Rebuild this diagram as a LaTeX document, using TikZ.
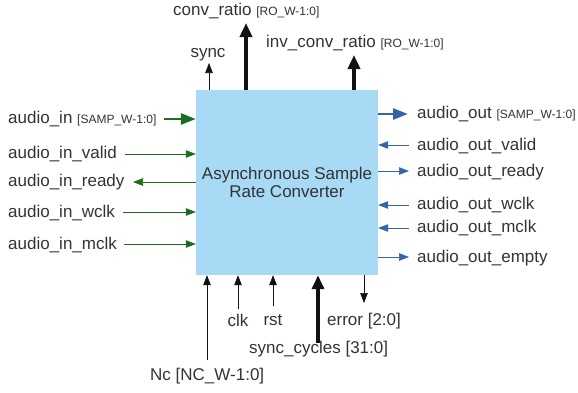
\documentclass[tikz,border=0pt]{standalone}
\usepackage{fontspec}
\setmainfont{Liberation Sans}
\usetikzlibrary{arrows.meta}
\definecolor{txt}{HTML}{333333}
\definecolor{boxfill}{HTML}{A8D9F5}
\definecolor{ingreen}{HTML}{1B6E1B}
\definecolor{outblue}{HTML}{3366A8}
\definecolor{ctlgray}{HTML}{111111}
\newcommand\widthtag[1]{{\fontsize{12}{14}\selectfont[#1]}}
\tikzset{
  lbl/.style={text=txt, inner sep=0pt, font=\fontsize{17}{20}\selectfont},
  thin sig/.style={line width=0.7pt, -{Triangle[length=10pt,width=7.5pt]}},
  thick sig/.style={line width=2.6pt, -{Triangle[length=15pt,width=11pt]}},
  bus sig/.style={line width=3.5pt, -{Triangle[length=14pt,width=12pt]}},
  ins/.style={draw=ingreen, fill=ingreen},
  outs/.style={draw=outblue, fill=outblue},
  ctl/.style={draw=ctlgray, fill=ctlgray},
}
\begin{document}
\begin{tikzpicture}[x=1pt, y=-1pt]
\useasboundingbox (0,0) rectangle (578,392);

% the converter block
\node[fill=boxfill, minimum width=182pt, minimum height=185pt, inner sep=0pt,
      align=center, text=txt, font=\fontsize{17}{17}\selectfont]
  (asrc) at (287,182.5) {Asynchronous Sample\\[0.5pt]Rate Converter};

% input side (left)
\node[lbl, anchor=west] (ain)  at (8,119) {audio\_in \widthtag{SAMP\_W-1:0}};
\node[lbl, anchor=west] (ainv) at (8,154) {audio\_in\_valid};
\node[lbl, anchor=west] (ainr) at (8,182) {audio\_in\_ready};
\node[lbl, anchor=west] (ainw) at (8,213) {audio\_in\_wclk};
\node[lbl, anchor=west] (ainm) at (8,245) {audio\_in\_mclk};
\coordinate (ainS)  at (164,119);
\coordinate (ainvS) at (125,154);
\coordinate (ainrE) at (133,182);
\coordinate (ainwS) at (123,212);
\coordinate (ainmS) at (124,244);
\draw[thick sig, ins] (ainS) -- (asrc.west |- ainS);
\draw[thin sig, ins] (ainvS) -- (asrc.west |- ainvS);
\draw[thin sig, ins] (asrc.west |- ainrE) -- (ainrE);
\draw[thin sig, ins] (ainwS) -- (asrc.west |- ainwS);
\draw[thin sig, ins] (ainmS) -- (asrc.west |- ainmS);

% output side (right)
\node[lbl, anchor=west] (aout)  at (417,114) {audio\_out \widthtag{SAMP\_W-1:0}};
\node[lbl, anchor=west] (aoutv) at (417,146) {audio\_out\_valid};
\node[lbl, anchor=west] (aoutr) at (417,172) {audio\_out\_ready};
\node[lbl, anchor=west] (aoutw) at (417,205) {audio\_out\_wclk};
\node[lbl, anchor=west] (aoutm) at (417,228) {audio\_out\_mclk};
\node[lbl, anchor=west] (aoute) at (417,258) {audio\_out\_empty};
\coordinate (aoutE)  at (408,114);
\coordinate (aoutvS) at (409,145);
\coordinate (aoutrE) at (409,171);
\coordinate (aoutwS) at (409,205);
\coordinate (aoutmS) at (409,228);
\coordinate (aouteE) at (409,257);
\draw[thick sig, outs] (asrc.east |- aoutE) -- (aoutE);
\draw[thin sig, outs] (aoutvS) -- (asrc.east |- aoutvS);
\draw[thin sig, outs] (asrc.east |- aoutrE) -- (aoutrE);
\draw[thin sig, outs] (aoutwS) -- (asrc.east |- aoutwS);
\draw[thin sig, outs] (aoutmS) -- (asrc.east |- aoutmS);
\draw[thin sig, outs] (asrc.east |- aouteE) -- (aouteE);

% ratio outputs and sync (top)
\node[lbl, anchor=west] (cr)   at (173,11) {conv\_ratio \widthtag{RO\_W-1:0}};
\node[lbl, anchor=west] (icr)  at (266,43) {inv\_conv\_ratio \widthtag{RO\_W-1:0}};
\node[lbl] (sync) at (208,55) {sync};
\coordinate (syncE) at (209,63);
\coordinate (crE)   at (246,23);
\coordinate (icrE)  at (354,55);
\draw[thin sig, ctl] (asrc.north -| syncE) -- (syncE);
\draw[bus sig, ctl] (asrc.north -| crE) -- (crE);
\draw[bus sig, ctl] (asrc.north -| icrE) -- (icrE);

% control and status (bottom)
\node[lbl] (clk) at (238,320) {clk};
\node[lbl] (rst) at (273,320) {rst};
\node[lbl, anchor=west] (err) at (327,321) {error [2:0]};
\node[lbl, anchor=west] (scy) at (249,349.5) {sync\_cycles [31:0]};
\node[lbl, anchor=west] (nc)  at (150,376.5) {Nc [NC\_W-1:0]};
\coordinate (ncS)  at (207,360);
\coordinate (clkS) at (238,309);
\coordinate (rstS) at (273,306);
\coordinate (scyS) at (318,343);
\coordinate (errE) at (364,303);
\draw[thin sig, ctl] (ncS) -- (asrc.south -| ncS);
\draw[thin sig, ctl] (clkS) -- (asrc.south -| clkS);
\draw[thin sig, ctl] (rstS) -- (asrc.south -| rstS);
\draw[bus sig, ctl] (scyS) -- (asrc.south -| scyS);
\draw[thin sig, ctl] (asrc.south -| errE) -- (errE);
\end{tikzpicture}
\end{document}
